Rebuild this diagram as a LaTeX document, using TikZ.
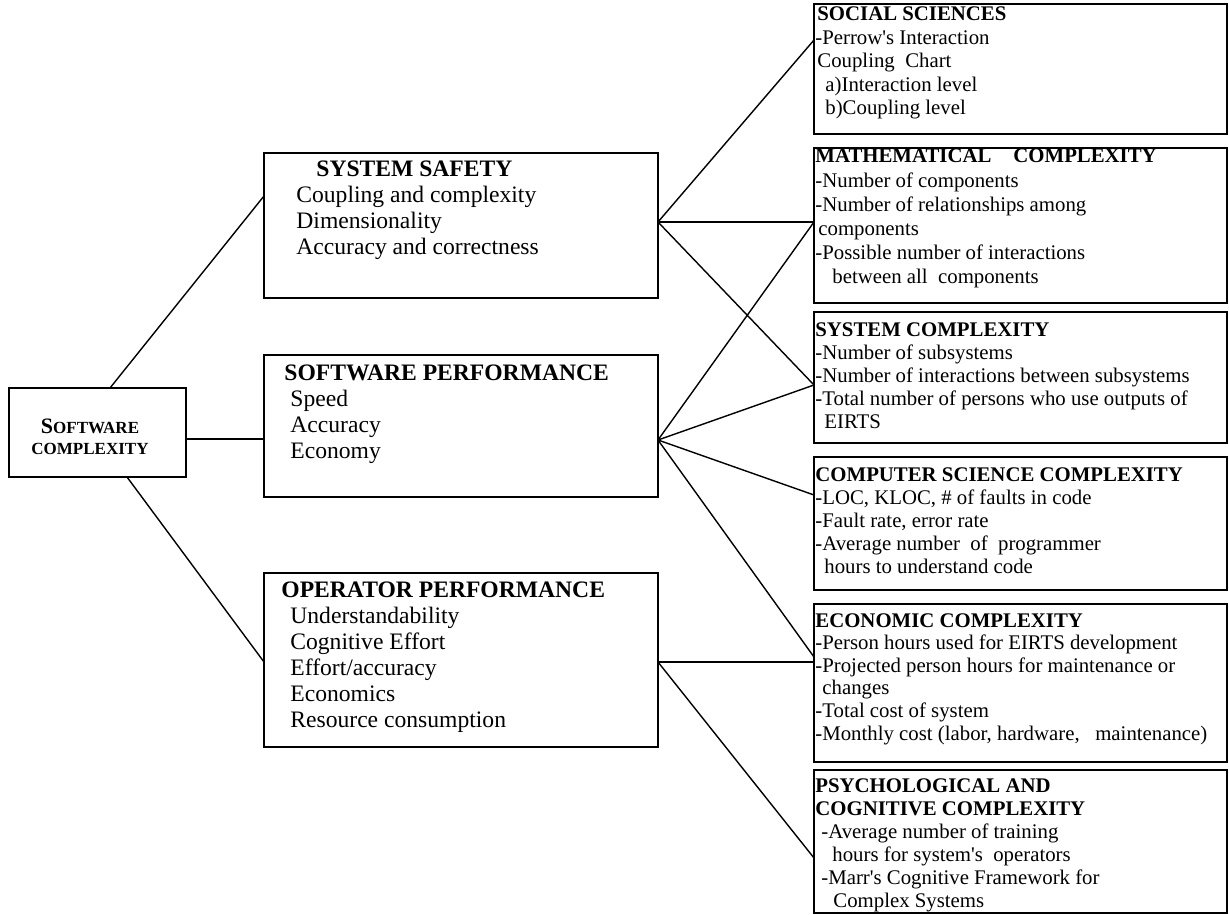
\documentclass[tikz,border=0pt]{standalone}
\usepackage{fontspec}
\setmainfont{Liberation Serif}[Ligatures=TeXOff]
\usetikzlibrary{fit}
\begin{document}
\begin{tikzpicture}[x=0.5pt,y=-0.5pt,
  box/.style={draw, line width=0.7pt, inner sep=0pt},
  link/.style={line width=0.7pt},
  mid/.style={inner sep=0pt, anchor=base west, font=\fontsize{11.8pt}{13pt}\selectfont},
  rt/.style={inner sep=0pt, anchor=base west, font=\fontsize{10.4pt}{#1}\selectfont},
]
\useasboundingbox (0,0) rectangle (1229,914);

% boxes
\node[box, fit={(9,388)(186,477)}] (sc) {};
\node[box, fit={(264,153)(658,298)}] (ss) {};
\node[box, fit={(264,355)(658,497)}] (sp) {};
\node[box, fit={(264,573)(658,747)}] (op) {};
\node[box, fit={(814,4)(1227,134)}] (soc) {};
\node[box, fit={(814,148)(1227,303)}] (math) {};
\node[box, fit={(814,312)(1227,443)}] (sysc) {};
\node[box, fit={(814,457)(1227,590)}] (cs) {};
\node[box, fit={(814,604)(1227,762)}] (eco) {};
\node[box, fit={(814,770)(1227,913)}] (psy) {};

% left text
\node[inner sep=0pt, anchor=base, font=\fontsize{8.5pt}{10.5pt}\selectfont\bfseries] (scT) at (90,433)
 {\begin{tabular}[t]{@{}c@{}}{\fontsize{11pt}{10.5pt}\selectfont S}OFTWARE\\ COMPLEXITY\end{tabular}};

% middle texts
\node[mid] (ssT) at (296,177) {\begin{tabular}[t]{@{}l@{}}\hspace*{10pt}\textbf{SYSTEM SAFETY}\\ Coupling and complexity\\ Dimensionality\\ Accuracy and correctness\end{tabular}};
\node[mid] (spT) at (284,380) {\begin{tabular}[t]{@{}l@{}}\textbf{SOFTWARE PERFORMANCE}\\ \hspace*{3pt}Speed\\ \hspace*{3pt}Accuracy\\ \hspace*{3pt}Economy\end{tabular}};
\node[mid] (opT) at (281,597) {\begin{tabular}[t]{@{}l@{}}\textbf{OPERATOR PERFORMANCE}\\ \hspace*{4.5pt}Understandability\\ \hspace*{4.5pt}Cognitive Effort\\ \hspace*{4.5pt}Effort/accuracy\\ \hspace*{4.5pt}Economics\\ \hspace*{4.5pt}Resource consumption\end{tabular}};

% right texts
\node[rt=11.75pt] (socT) at (815,21) {\begin{tabular}[t]{@{}l@{}}\hspace*{1pt}\textbf{SOCIAL SCIENCES}\\ -Perrow's Interaction\\ \hspace*{1pt}Coupling\ \ Chart\\ \hspace*{5pt}a)Interaction level\\ \hspace*{5pt}b)Coupling level\end{tabular}};
\node[rt=12.1pt] (mathT) at (815,163) {\begin{tabular}[t]{@{}l@{}}\textbf{MATHEMATICAL\hspace{11pt}COMPLEXITY}\\ -Number of components\\ -Number of relationships among\\ \hspace*{1.5pt}components\\ -Possible number of interactions\\ \hspace*{8.5pt}between all\ \ components\end{tabular}};
\node[rt=11.5pt] (syscT) at (815,336) {\begin{tabular}[t]{@{}l@{}}\textbf{SYSTEM COMPLEXITY}\\ -Number of subsystems\\ -Number of interactions between subsystems\\ -Total number of persons who use outputs of\\ \hspace*{4.5pt}EIRTS\end{tabular}};
\node[rt=11.6pt] (csT) at (815,481) {\begin{tabular}[t]{@{}l@{}}\textbf{COMPUTER SCIENCE COMPLEXITY}\\ -LOC, KLOC, \# of faults in code\\ -Fault rate, error rate\\ -Average number\ \ of\ \ programmer\\ \hspace*{4.5pt}hours to understand code\end{tabular}};
\node[rt=11.3pt] (ecoT) at (815,627) {\begin{tabular}[t]{@{}l@{}}\textbf{ECONOMIC COMPLEXITY}\\ -Person hours used for EIRTS development\\ -Projected person hours for maintenance or\\ \hspace*{3.5pt}changes\\ -Total cost of system\\ -Monthly cost (labor, hardware,\ \ \ maintenance)\end{tabular}};
\node[rt=11.5pt] (psyT) at (815,792) {\begin{tabular}[t]{@{}l@{}}\textbf{PSYCHOLOGICAL AND}\\ \textbf{COGNITIVE COMPLEXITY}\\ \hspace*{3pt}-Average number of training\\ \hspace*{8.5pt}hours for system's\ \ operators\\ \hspace*{3pt}-Marr's Cognitive Framework for\\ \hspace*{9pt}Complex Systems\end{tabular}};

% connection points
\coordinate (scTop) at (110,388);
\coordinate (scR) at (186,439);
\coordinate (scB) at (127,477);
\coordinate (ssL) at (264,196);
\coordinate (spL) at (264,439);
\coordinate (opL) at (264,662);
\coordinate (ssR) at (658,222);
\coordinate (spR) at (658,440);
\coordinate (opR) at (658,662);
\coordinate (socL) at (814,40);
\coordinate (mathL) at (814,222);
\coordinate (syscL) at (814,385);
\coordinate (csL) at (814,495);
\coordinate (ecoA) at (814,657);
\coordinate (ecoB) at (814,662);
\coordinate (psyL) at (814,858);

% connectors
\draw[link] (scTop) -- (ssL);
\draw[link] (scR) -- (spL);
\draw[link] (scB) -- (opL);
\draw[link] (ssR) -- (socL);
\draw[link] (ssR) -- (mathL);
\draw[link] (ssR) -- (syscL);
\draw[link] (spR) -- (mathL);
\draw[link] (spR) -- (syscL);
\draw[link] (spR) -- (csL);
\draw[link] (spR) -- (ecoA);
\draw[link] (opR) -- (ecoB);
\draw[link] (opR) -- (psyL);
\end{tikzpicture}
\end{document}
